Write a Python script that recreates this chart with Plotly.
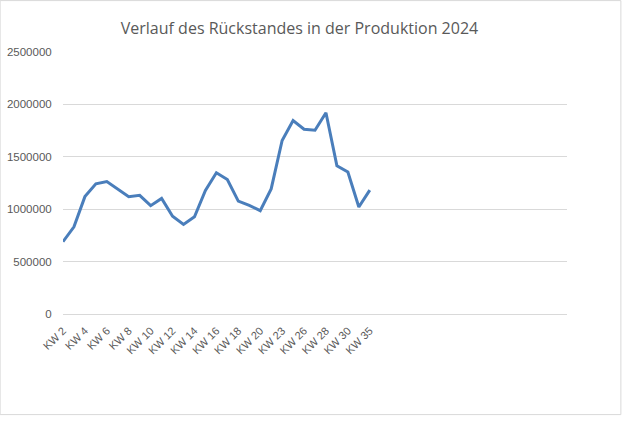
import plotly.graph_objects as go

weeks = ["KW 2", "KW 3", "KW 4", "KW 5", "KW 6", "KW 7", "KW 8", "KW 9", "KW 10",
         "KW 11", "KW 12", "KW 13", "KW 14", "KW 15", "KW 16", "KW 17", "KW 18",
         "KW 19", "KW 20", "KW 22", "KW 23", "KW 25", "KW 26", "KW 27", "KW 28",
         "KW 29", "KW 30", "KW 33", "KW 35"]
rueckstand = [690000, 832000, 1120000, 1242000, 1264000, 1192000, 1119000, 1132000,
              1034000, 1103000, 933000, 854000, 927000, 1179000, 1347000, 1283000,
              1077000, 1036000, 986000, 1194000, 1656000, 1845000, 1763000, 1754000,
              1921000, 1415000, 1355000, 1021000, 1182000]
y_ticks = [0, 500000, 1000000, 1500000, 2000000, 2500000]
x_tick_labels = weeks[::2]

title_text = "Verlauf des Rückstandes in der Produktion 2024"

W, H = 626, 426
L, R, T, B = 63.3, 566.7, 52, 314.5

fig = go.Figure()
fig.add_trace(go.Scatter(
    x=weeks, y=rueckstand, mode="lines",
    line=dict(color="#4A7EBB", width=3),
    hoverinfo="x+y",
))

def px_x(p):
    return (p - L) / (R - L)

def px_y(p):
    return (B - p) / (B - T)

fig.update_layout(
    width=W, height=H,
    margin=dict(l=L, r=W - R, t=T, b=H - B, pad=0, autoexpand=False),
    paper_bgcolor="white", plot_bgcolor="white",
    showlegend=False,
    font=dict(family="Liberation Sans", size=11, color="#595959"),
    title=dict(text=title_text, x=(299.5) / W, xanchor="center",
               y=1 - 28 / H, yanchor="middle",
               font=dict(family="Open Sans", size=16, color="#595959")),
    xaxis=dict(
        type="category", categoryorder="array", categoryarray=weeks,
        range=[0, 46], tickmode="array", tickvals=x_tick_labels,
        ticktext=x_tick_labels, tickangle=-45, showgrid=False,
        showline=True, linecolor="#D9D9D9", linewidth=1,
        ticks="outside", ticklen=5, tickcolor="rgba(0,0,0,0)",
        zeroline=False, automargin=False,
        tickfont=dict(size=11, color="#595959"),
    ),
    yaxis=dict(
        range=[0, 2500000], tickmode="array", tickvals=y_ticks,
        ticktext=[str(v) for v in y_ticks], showgrid=True,
        gridcolor="#D9D9D9", gridwidth=1, zeroline=False, showline=False,
        ticks="outside", ticklen=8, tickcolor="rgba(0,0,0,0)",
        automargin=False,
        tickfont=dict(size=11.5, color="#595959"),
    ),
    shapes=[dict(type="rect", xref="paper", yref="paper",
                 x0=px_x(0.5), x1=px_x(620.5), y0=px_y(415.3), y1=px_y(0.5),
                 line=dict(color="#D9D9D9", width=1), layer="below")],
)

fig.write_html("out.html", config={"displayModeBar": False},
               post_script="document.body.style.margin='0';document.body.style.overflow='hidden';")
